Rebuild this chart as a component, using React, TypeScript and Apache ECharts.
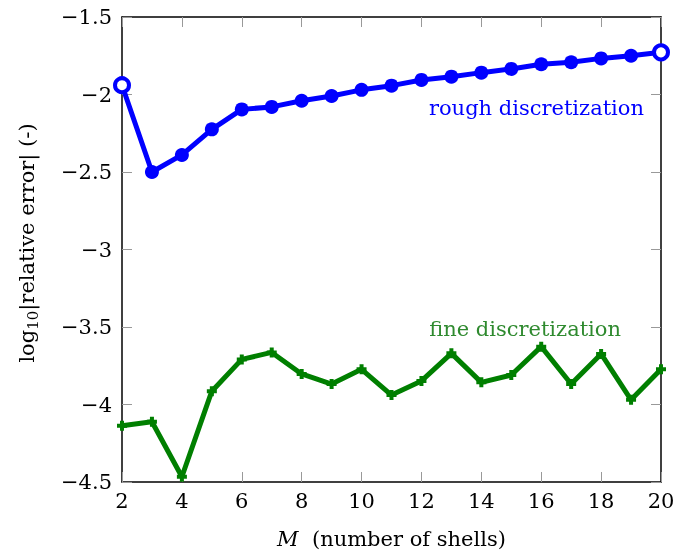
import React, { useEffect, useRef } from "react";
import * as echarts from "echarts";

const shells = [2, 3, 4, 5, 6, 7, 8, 9, 10, 11, 12, 13, 14, 15, 16, 17, 18, 19, 20];
const rough = [-1.94, -2.5, -2.39, -2.225, -2.096, -2.08, -2.04, -2.01, -1.97, -1.943, -1.906, -1.885, -1.859, -1.835, -1.805, -1.792, -1.767, -1.75, -1.728];
const fine = [-4.137, -4.111, -4.466, -3.914, -3.709, -3.664, -3.803, -3.868, -3.773, -3.939, -3.848, -3.67, -3.857, -3.81, -3.627, -3.868, -3.674, -3.97, -3.773];

const BLUE = "#0000ff";
const GREEN = "#007f00";
const FONT = "DejaVu Serif";
const FS = 21;

const fmt = (v: number) => (v < 0 ? "\u2212" + String(Math.abs(v)) : String(v));

const PLUS = "path://M3,0H7V3H10V7H7V10H3V7H0V3H3Z";

export default function App() {
  const ref = useRef<HTMLDivElement>(null);
  useEffect(() => {
    if (!ref.current) return;
    const chart = echarts.init(ref.current, undefined, { renderer: "svg" });
    const last = shells.length - 1;
    const roughData = shells.map((m, i) => {
      const item: any = { value: [m, rough[i]] };
      if (i === 0 || i === last) {
        item.itemStyle = { color: "#ffffff", borderColor: BLUE, borderWidth: 4 };
      }
      return item;
    });
    const fineData = shells.map((m, i) => [m, fine[i]]);
    const axisCommon = {
      axisLine: { show: true, lineStyle: { color: "#000", width: 1.5 } },
      axisTick: { show: true, inside: true, length: 10, lineStyle: { color: "#999", width: 1 } },
      splitLine: { show: false },
    };
    chart.setOption({
      animation: false,
      grid: { left: 122, right: 17, top: 17, bottom: 74 },
      xAxis: [
        {
          type: "value",
          min: 2,
          max: 20,
          interval: 2,
          ...axisCommon,
          axisLabel: { color: "#000", fontFamily: FONT, fontSize: FS, margin: 8, formatter: (v: number) => fmt(v) },
          name: "{i|M}  (number of shells)",
          nameLocation: "middle",
          nameGap: 46,
          nameTextStyle: {
            color: "#000",
            fontFamily: FONT,
            fontSize: FS,
            rich: { i: { fontStyle: "italic", fontFamily: FONT, fontSize: FS, color: "#000" } },
          },
        },
        {
          type: "value",
          position: "top",
          min: 2,
          max: 20,
          interval: 2,
          ...axisCommon,
          axisLabel: { show: false },
        },
      ],
      yAxis: [
        {
          type: "value",
          min: -4.5,
          max: -1.5,
          interval: 0.5,
          ...axisCommon,
          axisLabel: { color: "#000", fontFamily: FONT, fontSize: FS, margin: 10, formatter: (v: number) => fmt(v) },
        },
        {
          type: "value",
          position: "right",
          min: -4.5,
          max: -1.5,
          interval: 0.5,
          ...axisCommon,
          axisLabel: { show: false },
        },
      ],
      graphic: [
        {
          type: "text",
          x: 27,
          y: 243,
          rotation: Math.PI / 2,
          style: {
            text: "log{s|10}|relative error| (-)",
            fontFamily: FONT,
            fontSize: FS,
            fill: "#000",
            align: "center",
            verticalAlign: "middle",
            rich: { s: { fontSize: 15, fontFamily: FONT, padding: [12, 0, 0, 0], fill: "#000" } },
          },
        },
        {
          type: "text",
          x: 644,
          y: 108,
          style: { text: "rough discretization", fontFamily: FONT, fontSize: FS, fill: BLUE, align: "right", verticalAlign: "middle" },
        },
        {
          type: "text",
          x: 621,
          y: 329,
          style: { text: "fine discretization", fontFamily: FONT, fontSize: FS, fill: "#2f8a2f", align: "right", verticalAlign: "middle" },
        },
      ],
      series: [
        {
          type: "line",
          data: roughData,
          symbol: "circle",
          symbolSize: 14,
          lineStyle: { color: BLUE, width: 5 },
          itemStyle: { color: BLUE },
          clip: false,
        },
        {
          type: "line",
          data: fineData,
          symbol: PLUS,
          symbolSize: 10,
          lineStyle: { color: GREEN, width: 5 },
          itemStyle: { color: GREEN },
          clip: false,
        },
      ],
    });
    return () => chart.dispose();
  }, []);
  return <div ref={ref} style={{ position: "fixed", left: 0, top: 0, width: 678, height: 556 }} />;
}
